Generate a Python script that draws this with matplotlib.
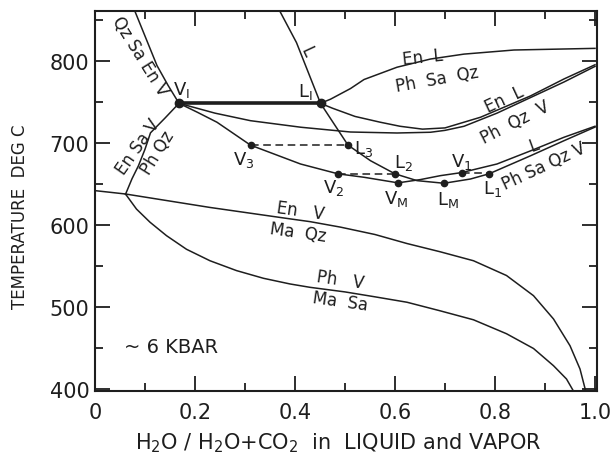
import matplotlib
matplotlib.use("Agg")
import matplotlib.pyplot as plt
from matplotlib.ticker import MultipleLocator

# curves: x = H2O/(H2O+CO2), t = temperature (deg C)
qzsa_x = [0.080, 0.100, 0.124, 0.146, 0.168]
qzsa_t = [860, 830, 794, 770, 748]

ensa_x = [0.168, 0.140, 0.111, 0.100, 0.087, 0.074, 0.061]
ensa_t = [748, 730, 712, 692, 672, 656, 637]

env_x = [0.0, 0.030, 0.061, 0.230, 0.391, 0.430, 0.491, 0.560, 0.624, 0.690, 0.757,
         0.823, 0.877, 0.917, 0.950, 0.970, 0.981]
env_t = [641.5, 639.5, 637.4, 621, 607, 603.7, 597, 588, 577, 567, 556,
         538, 513.4, 485, 452.4, 424, 398]

phv_x = [0.061, 0.083, 0.110, 0.143, 0.183, 0.230, 0.283, 0.337, 0.390, 0.430, 0.500,
         0.560, 0.624, 0.690, 0.757, 0.823, 0.877, 0.917, 0.943, 0.957]
phv_t = [637.4, 619, 603, 586.6, 570, 556, 544, 534.6, 527.7, 523.6, 518,
         512, 505.4, 495, 484, 467, 449, 428, 411.8, 397]

liq_x = [0.370, 0.403, 0.451, 0.506, 0.551, 0.600, 0.644, 0.698, 0.751, 0.788, 0.871, 0.938, 1.0]
liq_t = [860, 822, 748, 697, 678, 662, 653.7, 650.5, 655.7, 662, 684, 702.4, 719]

vap_x = [0.168, 0.205, 0.244, 0.311, 0.411, 0.486, 0.538, 0.606, 0.651, 0.691, 0.733,
         0.804, 0.871, 0.938, 1.0]
vap_t = [748, 737, 724.9, 697, 674, 662, 657.8, 651, 655, 659.8, 663.5,
         674, 690, 706.6, 720]

# En L / Ph Qz V double boundary
lowb_x = [0.168, 0.240, 0.311, 0.412, 0.511, 0.604, 0.671, 0.700, 0.738, 0.804, 0.871, 0.938, 1.0]
lowb_t = [748, 736, 726.8, 718.8, 713, 711.8, 712.7, 715, 720, 736, 755, 774, 793]
upb_x = [0.451, 0.475, 0.520, 0.570, 0.610, 0.655, 0.700, 0.771, 0.871, 0.938, 1.0]
upb_t = [748, 742, 732, 725, 720, 716.5, 718, 731, 757, 777.7, 795]

# En L / Ph Sa Qz boundary
top_x = [0.451, 0.471, 0.511, 0.538, 0.604, 0.671, 0.738, 0.838, 1.0]
top_t = [748, 753, 766, 777, 792, 802, 808, 813, 815]

# tie lines (vapor x, liquid x, temperature)
tie_v = [0.311, 0.486, 0.733]
tie_l = [0.506, 0.600, 0.788]
tie_t = [697, 662, 663]

dot_x = [0.311, 0.506, 0.486, 0.600, 0.606, 0.698, 0.733, 0.788]
dot_t = [697, 697, 662, 662, 651, 650.5, 663.5, 662]

col = "#1e1e1e"
fig = plt.figure(figsize=(6.13, 4.64), dpi=100)
ax = fig.add_axes([95 / 613, 1 - 392.3 / 464, 502 / 613, 380 / 464])

lw = 1.1
for xs, ts in [(qzsa_x, qzsa_t), (ensa_x, ensa_t), (env_x, env_t), (phv_x, phv_t),
               (liq_x, liq_t), (vap_x, vap_t), (lowb_x, lowb_t), (upb_x, upb_t),
               (top_x, top_t)]:
    ax.plot(xs, ts, color=col, lw=lw, solid_joinstyle="round")

# invariant V_I - L_I
ax.plot([vap_x[0], liq_x[2]], [748, 748], color=col, lw=2.6, solid_capstyle="round")
ax.plot([vap_x[0], liq_x[2]], [748, 748], "o", color=col, ms=6)

for xv, xl, t in zip(tie_v, tie_l, tie_t):
    ax.plot([xv, xl], [t, t], color=col, lw=1.1, ls=(0, (5, 3)))
ax.plot(dot_x, dot_t, "o", color=col, ms=4.5)

fs = 12
def lab(x, y, s, rot=0, size=fs):
    ax.text(x, y, s, fontsize=size, rotation=rot, ha="center", va="center",
            color=col, rotation_mode="anchor")

lab(0.089, 806, "Qz Sa En V", -58)
lab(0.086, 696, "En Sa V", 55)
lab(0.125, 689, "Ph Qz", 58)
lab(0.172, 765, r"V$_\mathrm{I}$", 0, 13)
lab(0.420, 763, r"L$_\mathrm{I}$", 0, 13)
lab(0.424, 812, "L", -65)
lab(0.297, 680, r"V$_3$", 0, 13)
lab(0.477, 646, r"V$_2$", 0, 13)
lab(0.537, 694, r"L$_3$", 0, 13)
lab(0.617, 676, r"L$_2$", 0, 13)
lab(0.603, 633, r"V$_\mathrm{M}$", 0, 13)
lab(0.705, 631, r"L$_\mathrm{M}$", 0, 13)
lab(0.733, 678, r"V$_1$", 0, 13)
lab(0.795, 645, r"L$_1$", 0, 13)
lab(0.878, 698, "L", 20)
lab(0.898, 672, "Ph Sa Qz V", 25)
lab(0.655, 805, "En  L", 6)
lab(0.685, 778, "Ph  Sa  Qz", 10)
lab(0.818, 753, "En  L", 25)
lab(0.840, 726, "Ph  Qz  V", 27)
lab(0.410, 617, "En   V", -8)
lab(0.407, 591, "Ma  Qz", -8)
lab(0.490, 533, "Ph   V", -8)
lab(0.490, 507, "Ma  Sa", -8)
ax.text(0.058, 452, "~ 6 KBAR", fontsize=14, ha="left", va="center", color=col)

ax.set_xlim(0, 1.004)
ax.set_ylim(396.8, 860.2)
ax.set_xticks([0, 0.2, 0.4, 0.6, 0.8, 1.0])
ax.set_xticklabels(["0", "0.2", "0.4", "0.6", "0.8", "1.0"])
ax.set_yticks([400, 500, 600, 700, 800])
ax.xaxis.set_minor_locator(MultipleLocator(0.1))
ax.yaxis.set_minor_locator(MultipleLocator(50))
ax.tick_params(which="both", direction="in", top=True, right=True, colors=col,
               width=1.3, labelsize=15)
ax.tick_params(which="major", length=11)
ax.tick_params(which="minor", length=6)
ax.tick_params(axis="x", pad=8)
ax.tick_params(axis="y", pad=4)
for sp in ax.spines.values():
    sp.set_linewidth(1.5)
    sp.set_color(col)

fig.text(20 / 613, 1 - 217 / 464, "TEMPERATURE  DEG C", rotation=90, fontsize=12,
         ha="center", va="center", color=col)
fig.text(338 / 613, 1 - 443 / 464,
         r"H$_2$O / H$_2$O+CO$_2$  in  LIQUID and VAPOR", fontsize=15,
         ha="center", va="center", color=col)

fig.savefig("out.png", dpi=100)
